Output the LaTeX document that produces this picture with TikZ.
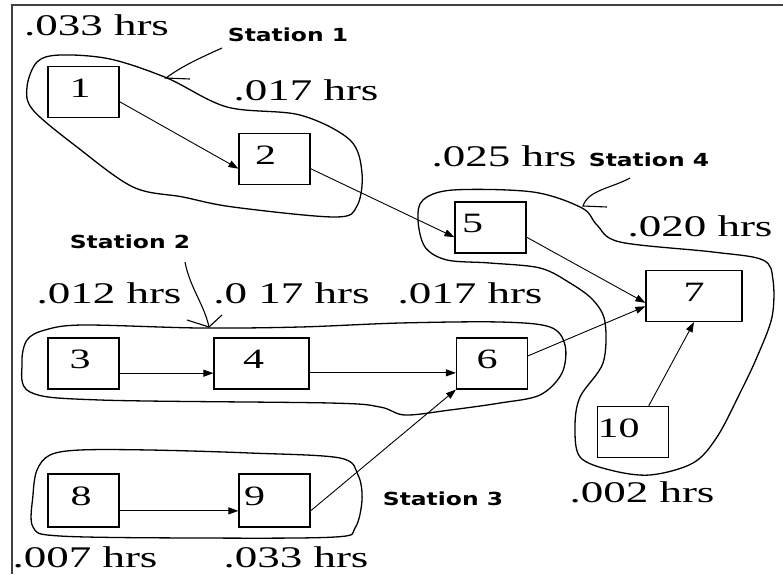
\documentclass[tikz,border=0pt]{standalone}
\usepackage{fontspec}
\setmainfont[FakeStretch=1.5]{Liberation Serif}
\newfontfamily\stationfont[FakeStretch=1.3]{DejaVu Sans Bold}
\usetikzlibrary{arrows.meta}

\tikzset{
  box/.style={rectangle, draw, line width=1.2pt, minimum width=71pt, minimum height=51pt,
    inner sep=0pt, text height=20pt, text depth=10pt, font=\fontsize{28}{30}\selectfont},
  hrs/.style={inner sep=0pt, font=\fontsize{30}{32}\selectfont},
  station/.style={inner sep=0pt, font=\stationfont\fontsize{18}{20}\selectfont},
  flow/.style={line width=0.9pt, -{Triangle[length=10pt,width=7pt]}},
  stationloop/.style={line width=1.3pt},
  pointer/.style={line width=1.1pt}
}

\begin{document}
\begin{tikzpicture}[x=1pt, y=-1pt]
\useasboundingbox (0,0) rectangle (783,574);
% frame
\draw[line width=2pt, black!75] (12,574) |- (783,5);

% tasks
\node (b1) [box] at (83.5,92) {1\hspace*{7pt}};
\node (b2) [box] at (274.5,159) {2\hspace*{18pt}};
\node (b5) [box] at (490.5,227.5) {5\hspace*{36pt}};
\node (b7) [box, minimum width=96pt] at (694,296) {7};
\node (b3) [box] at (83.5,363.5) {3\hspace*{7pt}};
\node (b4) [box, minimum width=95pt] at (261.5,363.5) {4\hspace*{16pt}};
\node (b6) [box] at (492,363.5) {6\hspace*{10pt}};
\node (b10) [box] at (633,432) {10\hspace*{29pt}};
\node (b8) [box, minimum height=53pt] at (83.5,500.5) {8\hspace*{5pt}};
\node (b9) [box, minimum height=53pt] at (274.5,500.5) {9\hspace*{40pt}};

% times
\node (t1) [hrs] at (96.5,25) {.033 hrs};
\node (t2) [hrs] at (306,90) {.017 hrs};
\node (t5) [hrs] at (504,156) {.025 hrs};
\node (t7) [hrs] at (700,226) {.020 hrs};
\node (t3) [hrs] at (109,293) {.012 hrs};
\node (t4) [hrs] at (291.5,293) {.0 17 hrs};
\node (t6) [hrs] at (470,293) {.017 hrs};
\node (t10) [hrs] at (642,492) {.002 hrs};
\node (t8) [hrs] at (85,557) {.007 hrs};
\node (t9) [hrs] at (296,557) {.033 hrs};

% stations
\node (st1) [station] at (288,35) {Station 1};
\node (st2) [station] at (130,242) {Station 2};
\node (st3) [station] at (443,499) {Station 3};
\node (st4) [station] at (649,160) {Station 4};

% precedence
\draw [flow] (b1.-15) -- (b2.195);
\draw [flow] (b2.-15) -- (b5.195);
\draw [flow] (b5.-15) -- (b7.188);
\draw [flow] (b6.12) -- (b7.192);
\draw [flow] (b10.59) -- (b7.south);
\draw [flow] (b3.-15) -- (b3.-15 -| b4.west);
\draw [flow] (b4.-11) -- (b4.-11 -| b6.west);
\draw [flow] (b8.-16) -- (b8.-16 -| b9.west);
\draw [flow] (b9.-16) -- (b6.south west);

% station outlines
\draw [stationloop] plot [smooth cycle, tension=0.55] coordinates {
  (27,87) (37,62) (60,55) (110,59) (167,78) (227,107) (300,115) (350,140)
  (362,173) (357,206) (335,217) (233,207) (183,197) (133,187) (77,147) (33,110)};
\draw [stationloop] plot [smooth cycle, tension=0.55] coordinates {
  (27,340) (45,330) (83,325) (200,328) (300,327) (400,323) (500,322) (550,327)
  (565,345) (562,373) (540,395) (500,403) (450,410) (405,415) (380,407)
  (330,403) (100,400) (30,392) (22,363)};
\draw [stationloop] plot [smooth cycle, tension=0.55] coordinates {
  (37,470) (50,455) (80,450) (150,450) (250,453) (340,458) (358,475) (362,500)
  (355,528) (335,537) (200,538) (60,536) (33,527) (33,495)};
\draw [stationloop] plot [smooth cycle, tension=0.55] coordinates {
  (423,200) (453,190) (533,192) (582,208) (597,225) (620,242) (713,252)
  (763,260) (773,280) (772,317) (757,357) (740,393) (717,437) (693,463)
  (650,475) (610,470) (580,457) (575,427) (580,397) (603,363) (605,322)
  (593,300) (570,283) (540,268) (490,263) (447,260) (425,247) (418,220)};

% pointers to the stations
\coordinate (p1) at (222,48);
\coordinate (p1tip) at (166,78);
\draw [pointer] (p1) .. controls (200,58) and (182,66) .. (p1tip) -- ++(24,1);
\coordinate (p2) at (185,262);
\coordinate (p2tip) at (209,327);
\draw [pointer] (p2) .. controls (190,288) and (204,304) .. (p2tip);
\draw [pointer] (p2tip) -- ++(-22,-7) (p2tip) -- ++(13,-12);
\coordinate (p4) at (630,178);
\coordinate (p4tip) at (583,206);
\draw [pointer] (p4) .. controls (612,188) and (588,190) .. (p4tip) -- ++(24,1);
\end{tikzpicture}
\end{document}
